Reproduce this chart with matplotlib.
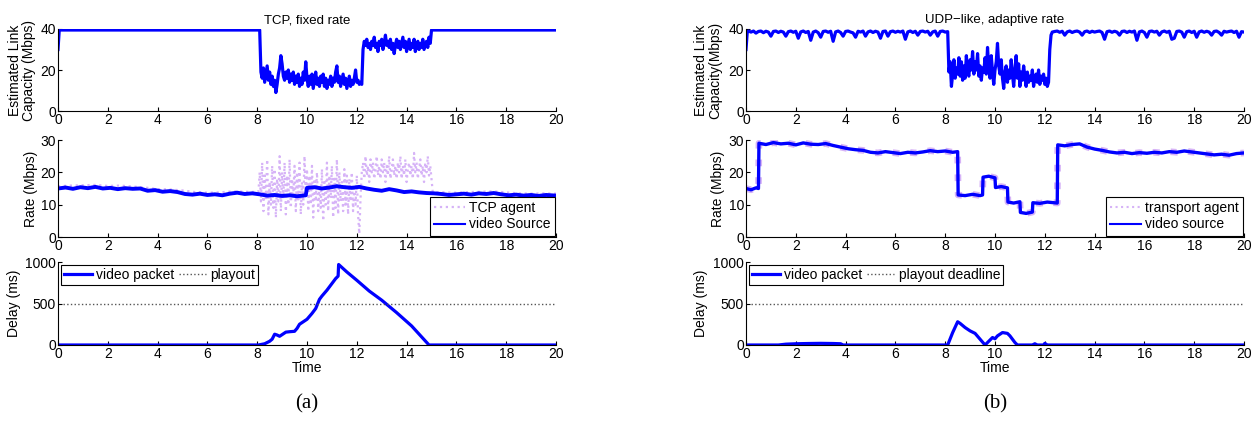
import numpy as np
import matplotlib
matplotlib.use("Agg")
import matplotlib.pyplot as plt

plt.rcParams['font.family'] = ['Liberation Sans', 'DejaVu Sans']
plt.rcParams['font.size'] = 10

BLUE = "#0000ff"
LILAC = "#d6b3f7"

# ---- link capacity, TCP fixed rate (Mbps) ----
cap_tcp_head_t = [0, 0.05, 8.1]
cap_tcp_head = [30, 39.5, 39.5]
cap_tcp_drop = [19, 16, 21, 14, 18, 22, 15, 19, 13, 17, 12, 15, 9, 13, 18, 21, 27, 23, 17, 15,
                19, 16, 20, 14, 18, 15, 19, 13, 17, 14, 18, 12, 16, 13, 19, 15, 24, 16, 12, 17,
                13, 18, 11, 15, 19, 13, 16, 12, 17, 14, 18, 12, 16, 11, 15, 13, 17, 12, 16, 14,
                19, 22, 14, 17, 12, 15, 18, 13, 16, 11, 14, 17, 12, 15, 13, 16, 20, 14, 15, 13,
                14, 13]
cap_tcp_mid = [30, 34, 32, 35, 31, 33, 30, 34, 32, 36, 31, 33, 29, 34, 32, 35, 30, 33, 37, 32,
               34, 31, 35, 30, 33, 28, 32, 35, 31, 34, 30, 33, 36, 31, 34, 29, 32, 35, 30, 33,
               31, 35, 29, 32, 34, 30, 33, 31, 35, 30, 32, 34, 31, 36, 33]
cap_tcp_tail_t = [15.0, 20.0]
cap_tcp_tail = [39.5, 39.5]

# ---- link capacity, UDP-like adaptive rate (Mbps) ----
cap_udp_first = [30, 38.5]
cap_udp_a = [39, 38.5, 39, 38, 38.8, 39, 38.2, 38.9, 38.5, 36.5, 38.8, 39, 38.3, 38.9, 38.5, 36.5,
             38.7, 39, 38.4, 38.9, 35.5, 38.6, 39, 38.3, 38.8, 34.5, 38.5, 39, 38.2, 36, 38.8,
             39, 38.4, 38.9, 34, 38.6, 39, 38.3, 36.5, 38.8, 39, 38.5, 38.1, 36, 38.9, 38.5, 39,
             36.5, 38.6, 39, 38.3, 38.9, 38.5, 35.5, 38.8, 39, 36.5, 38.7, 39, 38.4, 38.9, 38.5,
             39, 35, 38.6, 39, 38.3, 38.9, 37, 38.8, 39, 38.5, 38.9, 37, 38.6, 39, 36.5, 38.8,
             39, 38.5, 38.7]
cap_udp_drop = [19, 24, 12, 18, 25, 16, 21, 18, 26, 17, 24, 15, 22, 16, 27, 19, 17, 25, 20, 29,
                18, 24, 20, 28, 17, 22, 15, 21, 19, 26, 18, 31, 21, 16, 27, 19, 13, 20, 24, 33,
                22, 18, 25, 16, 11, 19, 22, 14, 20, 16, 25, 18, 12, 20, 27, 16, 23, 12, 19, 15,
                22, 17, 12, 19, 14, 17, 15, 20, 12, 16, 18, 14, 20, 13, 17, 15, 18, 13, 16, 12,
                14]
cap_udp_rise_t = [12.2, 12.25, 12.3]
cap_udp_rise = [30, 37, 38.5]
cap_udp_b = [38.8, 39, 38.4, 38.9, 37, 38.6, 39, 38.3, 38.8, 39, 38.5, 37, 38.7, 39, 38.3, 38.9,
             38.5, 38.8, 39, 38.3, 35, 38.7, 39, 38.4, 38.9, 38.5, 37, 38.8, 39, 38.3, 38.9, 38.5,
             39, 34.5, 38.6, 39, 38.3, 36, 38.8, 39, 38.5, 38.9, 37, 38.6, 39, 38.4, 38.9, 35,
             35.5, 38.8, 39, 38.5, 36, 38.7, 39, 38.3, 38.9, 36, 38.6, 39, 38.4, 38.9, 38.5, 37,
             38.8, 39, 38.3, 37, 38.9, 38.5, 38.8, 39, 38.3, 38.9, 36, 38.7, 38.5, 38.8]

# ---- rate, TCP (Mbps) ----
src_tcp_t = [0, 0.3, 0.6, 0.9, 1.2, 1.5, 1.8, 2.1, 2.4, 2.7, 3.0, 3.3, 3.6, 3.9, 4.2, 4.5, 4.8,
             5.1, 5.4, 5.7, 6.0, 6.3, 6.6, 6.9, 7.2, 7.5, 7.8, 8.1, 8.4, 8.7, 9.0, 9.3, 9.6, 9.95,
             10.0, 10.3, 10.6, 10.9, 11.2, 11.5, 11.8, 12.1, 12.4, 12.7, 13.0, 13.3, 13.6, 13.9,
             14.2, 14.5, 14.8, 15.1, 15.4, 15.7, 16.0, 16.3, 16.6, 16.9, 17.2, 17.5, 17.8, 18.1,
             18.4, 18.7, 19.0, 19.3, 19.6, 20.0]
src_tcp = [15.0, 15.3, 14.9, 15.4, 15.1, 15.5, 15.0, 15.2, 14.8, 15.1, 14.9, 15.0, 14.3, 14.5,
           14.0, 14.2, 13.9, 13.3, 13.1, 13.4, 13.0, 13.2, 12.9, 13.4, 13.7, 13.3, 13.5, 13.2,
           12.8, 13.0, 12.7, 12.9, 12.6, 12.9, 15.2, 15.4, 15.0, 15.3, 15.7, 15.4, 15.2, 15.5,
           15.0, 14.6, 14.3, 14.8, 14.4, 13.9, 14.1, 13.8, 13.6, 13.5, 13.3, 13.0, 13.2, 13.4,
           13.1, 13.5, 13.3, 13.6, 13.2, 12.9, 13.1, 12.8, 13.0, 12.7, 13.0, 12.8]
agent_tcp_head_t = [0, 0.5, 1, 1.5, 2, 2.5, 3, 3.5, 4, 4.5, 5, 5.5, 6, 6.5, 7, 7.5, 8]
agent_tcp_head = [15.7, 15.9, 16.0, 16.1, 15.8, 15.9, 15.6, 15.3, 14.8, 14.7, 14.4, 13.9, 13.7,
                  13.8, 14.1, 14.0, 13.9]
agent_tcp_burst1 = [14, 20, 11, 23, 8, 19, 12, 24, 7, 17, 10, 22, 9, 21, 6, 18, 11, 25, 8, 20,
                    12, 23, 7, 19, 10, 24, 9, 18, 13, 22, 8, 20, 11, 23, 7, 17, 10, 25, 12, 21,
                    8, 19, 10, 22, 6, 18, 11, 20, 8, 16, 9, 21, 5, 17, 10, 23, 8, 19, 12, 22,
                    6, 18, 9, 24, 7, 20, 11, 17, 8, 21, 10, 19, 7, 18, 11, 20, 8, 16, 10, 19,
                    7, 1, 12]
agent_tcp_burst2 = [20, 23, 18, 25, 19, 22, 17, 24, 20, 23, 18, 21, 25, 19, 22, 18, 24, 20, 23,
                    17, 22, 19, 25, 18, 21, 24, 19, 22, 18, 23, 20, 25, 18, 22, 19, 24, 17, 21,
                    23, 19, 22, 18, 26, 20, 23, 18, 21, 24, 19, 22, 17, 23, 20, 25, 19, 22, 18]
agent_tcp_tail_t = [15.05, 15.5, 16, 16.5, 17, 17.5, 18, 18.5, 19, 19.5, 20]
agent_tcp_tail = [13.9, 13.8, 13.7, 13.9, 14.0, 14.1, 13.8, 13.5, 13.4, 13.5, 13.4]

# ---- rate, UDP-like (Mbps) ----
src_udp_t = [0, 0.2, 0.4, 0.5, 0.52, 0.8, 1.1, 1.4, 1.7, 2.0, 2.3, 2.6, 2.9, 3.2, 3.5, 3.8, 4.1,
             4.4, 4.7, 5.0, 5.3, 5.6, 5.9, 6.2, 6.5, 6.8, 7.1, 7.4, 7.7, 8.0, 8.3, 8.5, 8.52, 8.8,
             9.1, 9.4, 9.5, 9.52, 9.75, 10.0, 10.02, 10.25, 10.5, 10.52, 10.75, 11.0, 11.02,
             11.25, 11.5, 11.52, 11.8, 12.1, 12.5, 12.52, 12.8, 13.1, 13.4, 13.7, 14.0, 14.3,
             14.6, 14.9, 15.2, 15.5, 15.8, 16.1, 16.4, 16.7, 17.0, 17.3, 17.6, 17.9, 18.2, 18.5,
             18.8, 19.1, 19.4, 19.7, 20.0]
src_udp = [15.0, 14.6, 15.2, 15.0, 29.0, 28.6, 29.2, 28.8, 29.0, 28.5, 29.1, 28.7, 28.6, 28.9,
           28.3, 27.8, 27.3, 27.0, 26.8, 26.2, 26.0, 26.4, 26.1, 25.8, 26.2, 26.0, 26.3, 26.7,
           26.4, 26.6, 26.2, 26.4, 13.0, 12.8, 13.2, 12.8, 13.0, 18.5, 18.8, 18.3, 15.3, 15.6,
           15.2, 10.8, 10.5, 10.9, 7.6, 7.3, 7.7, 10.6, 10.4, 10.8, 10.5, 28.5, 28.2, 28.6,
           28.8, 27.8, 27.2, 26.8, 26.3, 26.0, 26.2, 25.8, 26.1, 25.9, 26.2, 26.0, 26.4, 26.2,
           26.6, 26.3, 26.0, 25.7, 25.4, 25.6, 25.3, 25.8, 26.0]
agent_udp = list(src_udp)  # transport agent sits right under the source

# ---- delay (ms) ----
del_tcp_t = [0, 8.05, 8.3, 8.5, 8.6, 8.7, 8.8, 8.9, 9.0, 9.15, 9.3, 9.5, 9.6, 9.7, 9.85, 10.0,
             10.2, 10.35, 10.5, 10.6, 10.8, 11.0, 11.15, 11.25, 11.27, 11.6, 12.0, 12.5, 13.0,
             13.6, 14.2, 14.9, 20]
del_tcp = [0, 0, 15, 45, 70, 130, 120, 105, 125, 155, 160, 165, 200, 250, 280, 310, 380, 440,
           550, 590, 660, 740, 800, 830, 970, 880, 780, 650, 540, 390, 230, 0, 0]
del_udp_t = [0, 1.3, 1.6, 2.0, 2.5, 3.0, 3.5, 3.8, 3.9, 8.1, 8.3, 8.5, 8.6, 8.8, 9.0, 9.2, 9.4,
             9.6, 9.8, 9.9, 10.0, 10.1, 10.3, 10.5, 10.6, 10.8, 10.9, 11.5, 11.6, 11.7, 11.95,
             12.0, 12.1, 20]
del_udp = [0, 0, 10, 15, 18, 20, 18, 15, 0, 0, 150, 280, 260, 210, 170, 140, 70, 0, 60, 90, 75,
           110, 150, 140, 110, 30, 0, 0, 15, 0, 0, 20, 0, 0]
playout_t = [0.2, 19.9]
playout = [500, 500]


def seg(start, step, vals):
    return start + step * np.arange(len(vals))


def style(ax, ylim, yticks):
    ax.set_xlim(0, 20)
    ax.set_ylim(*ylim)
    ax.set_xticks(range(0, 21, 2))
    ax.set_yticks(yticks)
    ax.spines['top'].set_visible(False)
    ax.spines['right'].set_visible(False)
    ax.tick_params(direction='in', length=3, width=0.8, labelsize=10, pad=1.5)
    for s in ax.spines.values():
        s.set_linewidth(0.8)


def add_legend(ax, **kw):
    leg = ax.legend(fancybox=False, edgecolor='black', framealpha=1, handletextpad=0.3, **kw)
    leg.get_frame().set_linewidth(0.8)
    return leg


fig = plt.figure(figsize=(12.52, 4.23), dpi=100)
W, H = 1252.0, 423.0
cols = [58, 746]
rows = [(29, 111), (140, 237), (262, 345)]
axs = [[fig.add_axes([c / W, 1 - r[1] / H, 498 / W, (r[1] - r[0]) / H]) for r in rows] for c in cols]

# left column: TCP fixed rate
a0, a1, a2 = axs[0]
cap_t = np.concatenate([cap_tcp_head_t, seg(8.15, 0.05, cap_tcp_drop), seg(12.25, 0.05, cap_tcp_mid), cap_tcp_tail_t])
cap_v = np.concatenate([cap_tcp_head, cap_tcp_drop, cap_tcp_mid, cap_tcp_tail])
a0.plot(cap_t, cap_v, color=BLUE, lw=2.3)
style(a0, (0, 40), [0, 20, 40])
a0.set_title("TCP, fixed rate", fontsize=9.5, pad=4)
a0.set_ylabel("Estimated Link\nCapacity (Mbps)", linespacing=1.0)
a0.yaxis.set_label_coords(-0.044, 0.5)

ag_t = np.concatenate([agent_tcp_head_t, seg(8.05, 0.05, agent_tcp_burst1), seg(12.2, 0.05, agent_tcp_burst2), agent_tcp_tail_t])
ag_v = np.concatenate([agent_tcp_head, agent_tcp_burst1, agent_tcp_burst2, agent_tcp_tail])
a1.plot(ag_t, ag_v, color=LILAC, lw=1.6, ls=':', label="TCP agent")
a1.plot(src_tcp_t, src_tcp, color=BLUE, lw=2.8, label="video Source")
style(a1, (0, 30), [0, 10, 20, 30])
a1.set_ylabel("Rate (Mbps)")
a1.yaxis.set_label_coords(-0.04, 0.5)
leg = add_legend(a1, loc='lower right', borderaxespad=0.1, handlelength=2.2, borderpad=0.3, labelspacing=0.2)
leg.legend_handles[1].set_linewidth(1.5)

a2.plot(del_tcp_t, del_tcp, color=BLUE, lw=2.3, label="video packet")
a2.plot(playout_t, playout, color='#555555', lw=1.0, ls=':', label="playout")
style(a2, (0, 1000), [0, 500, 1000])
a2.set_ylabel("Delay (ms)")
a2.yaxis.set_label_coords(-0.074, 0.5)
a2.set_xlabel("Time", labelpad=0)
add_legend(a2, loc='upper left', ncol=2, borderaxespad=0.25, handlelength=2.0, borderpad=0.2, columnspacing=0.3)

# right column: UDP-like adaptive rate
b0, b1, b2 = axs[1]
cu_t = np.concatenate([[0, 0.05], seg(0.1, 0.1, cap_udp_a), seg(8.15, 0.05, cap_udp_drop), cap_udp_rise_t, seg(12.4, 0.1, cap_udp_b)])
cu_v = np.concatenate([cap_udp_first, cap_udp_a, cap_udp_drop, cap_udp_rise, cap_udp_b])
b0.plot(cu_t, cu_v, color=BLUE, lw=2.3)
style(b0, (0, 40), [0, 20, 40])
b0.set_title("UDP\u2212like, adaptive rate", fontsize=9.5, pad=4)
b0.set_ylabel("Estimated Link\nCapacity(Mbps)", linespacing=1.0)
b0.yaxis.set_label_coords(-0.048, 0.5)

b1.plot(src_udp_t, agent_udp, color=LILAC, lw=4.8, ls=':', label="transport agent")
b1.plot(src_udp_t, src_udp, color=BLUE, lw=2.4, label="video source")
style(b1, (0, 30), [0, 10, 20, 30])
b1.set_ylabel("Rate (Mbps)")
b1.yaxis.set_label_coords(-0.042, 0.5)
leg = add_legend(b1, loc='lower right', borderaxespad=0.1, handlelength=2.2, borderpad=0.3, labelspacing=0.2)
leg.legend_handles[0].set_linewidth(1.5)
leg.legend_handles[1].set_linewidth(1.5)

b2.plot(del_udp_t, del_udp, color=BLUE, lw=2.3, label="video packet")
b2.plot(playout_t, playout, color='#555555', lw=1.0, ls=':', label="playout deadline")
style(b2, (0, 1000), [0, 500, 1000])
b2.set_ylabel("Delay (ms)")
b2.yaxis.set_label_coords(-0.076, 0.5)
b2.set_xlabel("Time", labelpad=0)
add_legend(b2, loc='upper left', ncol=2, borderaxespad=0.25, handlelength=2.0, borderpad=0.2, columnspacing=0.3)

fig.text(307 / W, 1 - 404 / H, "(a)", family=['Liberation Serif', 'DejaVu Serif'], fontsize=15, ha='center', va='center')
fig.text(995 / W, 1 - 404 / H, "(b)", family=['Liberation Serif', 'DejaVu Serif'], fontsize=15, ha='center', va='center')

fig.savefig("out.png", dpi=100)
